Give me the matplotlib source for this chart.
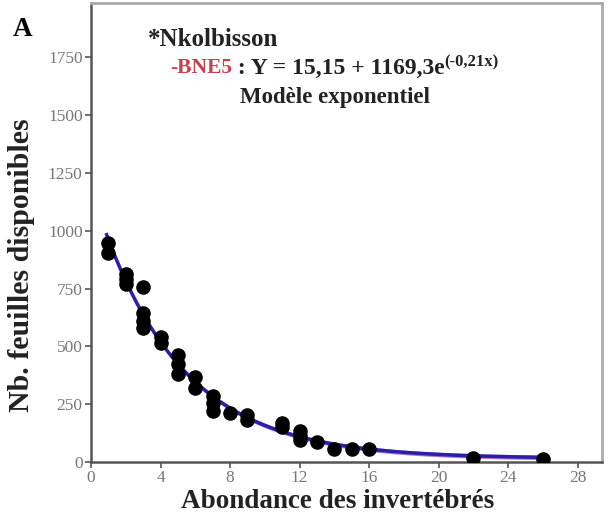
import matplotlib
matplotlib.use("Agg")
import matplotlib.pyplot as plt
import numpy as np

# observations: invertebrate abundance vs available leaves
abondance = [1, 1, 2, 2, 2, 3, 3, 3, 3, 4, 4, 5, 5, 5, 6, 6, 7, 7, 7,
             8, 9, 9, 11, 11, 12, 12, 12, 13, 14, 15, 16, 22, 26]
feuilles = [945, 902, 815, 790, 770, 755, 645, 610, 580, 542, 513, 462, 425, 380,
            366, 318, 286, 255, 222, 213, 205, 180, 170, 152, 134, 112, 95,
            85, 56, 56, 56, 18, 14]

# exponential model parameters
a, b, c = 15.15, 1169.3, -0.21

x_ticks = [0, 4, 8, 12, 16, 20, 24, 28]
y_ticks = [0, 250, 500, 750, 1000, 1250, 1500, 1750]

plt.rcParams["font.family"] = ["Liberation Serif", "DejaVu Serif"]

W, H = 608, 520
fig = plt.figure(figsize=(W / 100, H / 100), dpi=100)
ax = fig.add_axes([91 / W, 1 - 462 / H, (602 - 91) / W, (462 - 3) / H])

xf = np.linspace(0.9, 26, 300)
yf = a + b * np.exp(c * xf)
ax.fill_between(xf, yf - 10, yf + 10, color="#9b3fc4", alpha=0.7, lw=0, zorder=2)
ax.plot(xf, yf, color="#2a1fa8", lw=2.5, zorder=3)
ax.scatter(abondance, feuilles, s=110, color="black", zorder=4, lw=0)

ax.set_xlim(0, 29.4)
ax.set_ylim(0, 1985)
ax.set_xticks(x_ticks)
ax.set_yticks(y_ticks)
ax.tick_params(colors="#555555", labelsize=12.5, length=4, width=1.2,
               labelcolor="#777777", pad=2)

for side in ["left", "bottom"]:
    ax.spines[side].set_color("#555555")
    ax.spines[side].set_linewidth(1.8)
for side in ["top", "right"]:
    ax.spines[side].set_color("#aaaaaa")
    ax.spines[side].set_linewidth(2)

def px(x, y):
    return x / W, 1 - y / H

fig.text(*px(338, 502), "Abondance des invertébrés", fontsize=19.5,
         fontweight="bold", ha="center", va="center", color="#222222")
fig.text(*px(22, 265), "Nb. feuilles disponibles", fontsize=21.5, rotation=90,
         fontweight="bold", ha="center", va="center", color="#222222")

fig.text(*px(23, 30), "A", fontsize=19.5, fontweight="bold", ha="center", va="center")
fig.text(*px(148, 40), "*Nkolbisson", fontsize=18, fontweight="bold", va="center",
         color="#222222")
fig.text(*px(335, 97), "Modèle exponentiel", fontsize=16.5,
         fontweight="bold", ha="center", va="center", color="#222222")

# equation line: coloured site code, formula, raised exponent
fig.canvas.draw()
r = fig.canvas.get_renderer()
t1 = fig.text(*px(170, 68), "-BNE5", fontsize=15.5, fontweight="bold",
              color="#c8404f", va="center")
x1 = t1.get_window_extent(r).x1
t2 = fig.text(x1 / W, 1 - 68 / H, " : Y = 15,15 + 1169,3e", fontsize=17,
              fontweight="bold", va="center", color="#222222")
x2 = t2.get_window_extent(r).x1
fig.text(x2 / W, 1 - 62 / H, "(-0,21x)", fontsize=12, fontweight="bold",
         va="center", color="#222222")

fig.savefig("out.png", dpi=100)
